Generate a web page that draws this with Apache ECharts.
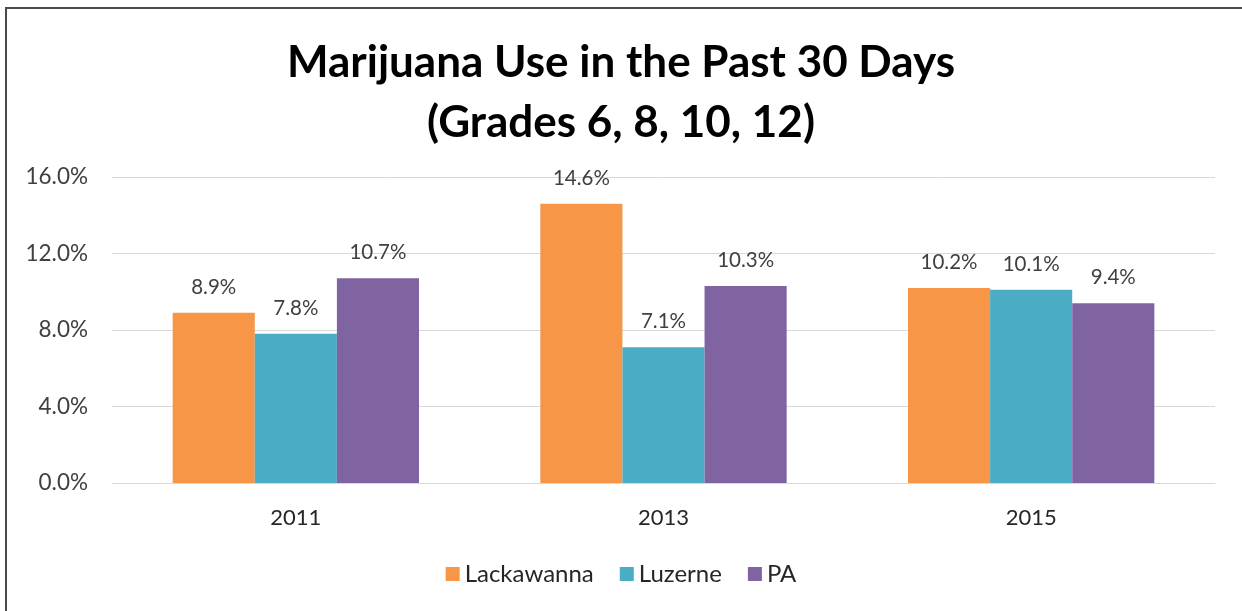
<!DOCTYPE html>
<html>
<head>
<meta charset="utf-8">
<script src="https://cdn.jsdelivr.net/npm/echarts@6/dist/echarts.min.js"></script>
<style>
html,body{margin:0;padding:0;background:#fff;}
#wrap{position:absolute;left:0;top:0;width:1242px;height:611px;}
#chart{position:absolute;left:0;top:0;width:1242px;height:611px;}
#frame{position:absolute;left:5px;top:7px;width:1300px;height:700px;border-left:2px solid #4a4a4a;border-top:2px solid #4a4a4a;pointer-events:none;}
</style>
</head>
<body>
<div id="wrap"><div id="chart"></div><div id="frame"></div></div>
<script>
const titleLines = ["Marijuana Use in the Past 30 Days", "(Grades 6, 8, 10, 12)"];
const categories = ["2011", "2013", "2015"];
const seriesNames = ["Lackawanna", "Luzerne", "PA"];
const lackawanna = [8.9, 14.6, 10.2];
const luzerne = [7.8, 7.1, 10.1];
const pa = [10.7, 10.3, 9.4];
const colors = ["#F79646", "#4BACC6", "#8064A2"];
const yTicks = { min: 0, max: 16, interval: 4 };

const font = "Lato";
const chart = echarts.init(document.getElementById('chart'));
const mk = (name, data, color) => ({
  name, type: 'bar', data, barGap: '0%', barCategoryGap: '33%',
  itemStyle: { color },
  label: { show: true, position: 'top', distance: 15, formatter: p => p.value.toFixed(1) + '%',
    color: '#404040', fontSize: 20.5, fontFamily: font },
  emphasis: { disabled: true }
});
chart.setOption({
  animation: false,
  textStyle: { fontFamily: font },
  title: {
    text: titleLines.join('\n'), left: 'center', top: 28,
    textStyle: { fontSize: 44, fontWeight: 'bold', color: '#000', lineHeight: 60, fontFamily: font }
  },
  legend: {
    data: seriesNames, bottom: 20, left: 'center', icon: 'rect', itemWidth: 14, itemHeight: 14, itemGap: 26,
    textStyle: { fontSize: 24, color: '#262626', fontFamily: font }
  },
  grid: { left: 112, right: 27, top: 177, bottom: 128, containLabel: false },
  xAxis: {
    type: 'category', data: categories,
    axisLine: { show: true, lineStyle: { color: '#d9d9d9', width: 1 } },
    axisTick: { show: false },
    axisLabel: { fontSize: 22, color: '#262626', margin: 24, fontFamily: font }
  },
  yAxis: {
    type: 'value', min: yTicks.min, max: yTicks.max, interval: yTicks.interval,
    axisLine: { show: false }, axisTick: { show: false },
    splitLine: { lineStyle: { color: '#d9d9d9', width: 1 } },
    axisLabel: { fontSize: 22.5, color: '#404040', margin: 24, formatter: v => v.toFixed(1) + '%', fontFamily: font }
  },
  series: [mk(seriesNames[0], lackawanna, colors[0]), mk(seriesNames[1], luzerne, colors[1]), mk(seriesNames[2], pa, colors[2])]
});
</script>
</body>
</html>
